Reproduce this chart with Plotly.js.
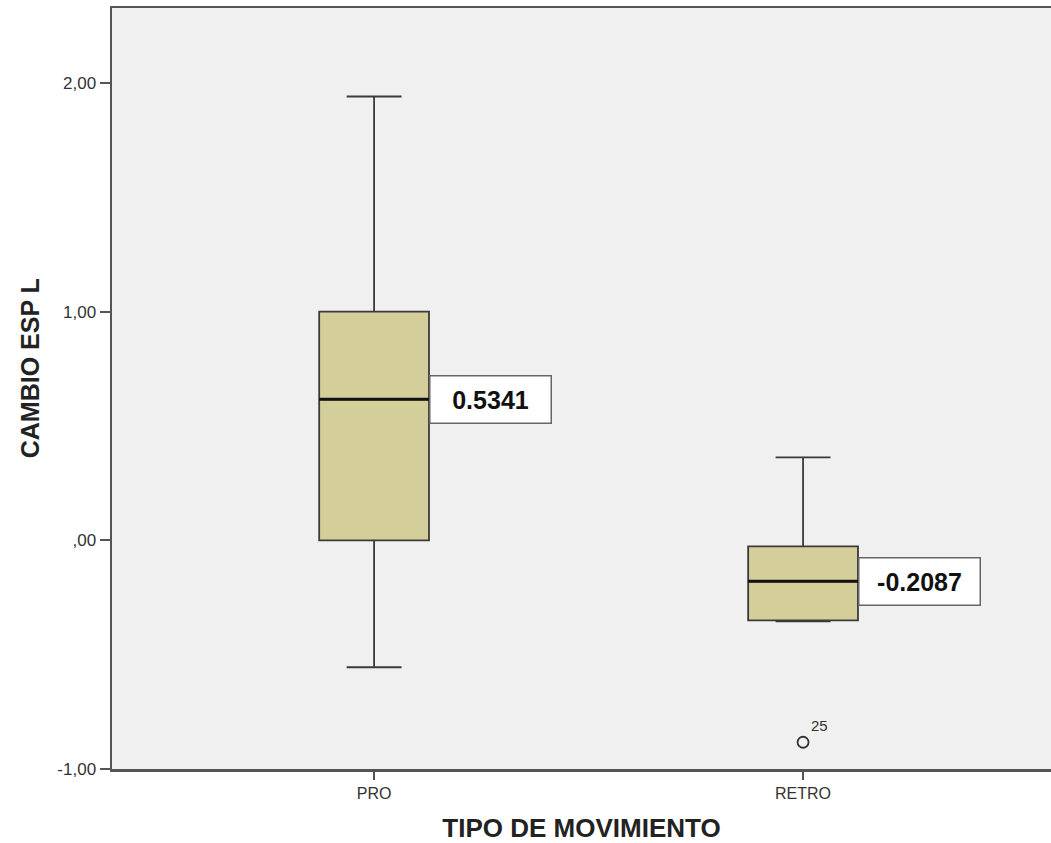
<!DOCTYPE html>
<html><head><meta charset="utf-8">
<script src="https://cdn.plot.ly/plotly-3.0.1.min.js"></script>
<style>html,body{margin:0;padding:0;background:#fff}#chart{width:1051px;height:843px}</style>
</head><body><div id="chart"></div>
<script>
const categories = ['PRO', 'RETRO'];
const lowerWhisker = [-0.555, -0.354];
const q1 = [0.00, -0.35];
const median = [0.617, -0.179];
const q3 = [1.00, -0.026];
const upperWhisker = [1.941, 0.363];
const meanLabels = ['0.5341', '-0.2087'];
const outlierCat = [1];
const outlierVal = [-0.883];
const outlierIds = ['25'];
const yTickVals = [-1, 0, 1, 2];
const yTickText = ['-1,00', ',00', '1,00', '2,00'];

const boxW = 0.256;
const fillCol = '#d4cf9a';
const lineCol = '#3a3a3a';
const font = 'Liberation Sans, Arial, sans-serif';

const traces = [];
categories.forEach((c, i) => {
  traces.push({
    type: 'box', x: [i], q1: [q1[i]], median: [median[i]], q3: [q3[i]],
    lowerfence: [lowerWhisker[i]], upperfence: [upperWhisker[i]],
    width: boxW, whiskerwidth: 0.5, fillcolor: fillCol,
    line: {color: lineCol, width: 1.8}, boxpoints: false, showlegend: false, hoverinfo: 'skip'
  });
  traces.push({
    type: 'scatter', mode: 'lines', x: [i - boxW / 2, i + boxW / 2], y: [median[i], median[i]],
    line: {color: '#111', width: 3}, showlegend: false, hoverinfo: 'skip'
  });
});
traces.push({
  type: 'scatter', mode: 'markers+text', x: outlierCat, y: outlierVal, text: outlierIds,
  textposition: 'top right', textfont: {family: font, size: 15, color: '#333'},
  marker: {symbol: 'circle-open', size: 11, color: '#333', line: {width: 1.8}},
  showlegend: false, hoverinfo: 'skip'
});

const annotations = categories.map((c, i) => ({
  x: i + boxW / 2, y: median[i], xref: 'x', yref: 'y', xanchor: 'left', yanchor: 'middle',
  text: '<b>' + meanLabels[i] + '</b>', showarrow: false,
  font: {family: font, size: 25, color: '#111'},
  bgcolor: '#ffffff', bordercolor: '#666', borderwidth: 1.5, borderpad: 2,
  width: 116, height: 42, align: 'center'
}));
annotations.push({
  xref: 'paper', yref: 'paper', x: -0.087, y: 0.527, xanchor: 'center', yanchor: 'middle',
  textangle: -90, showarrow: false, text: '<b>CAMBIO ESP L</b>',
  font: {family: font, size: 25, color: '#222'}
});

const layout = {
  width: 1051, height: 843,
  margin: {l: 112, r: 0, t: 8, b: 74},
  paper_bgcolor: '#ffffff', plot_bgcolor: '#f0f0f0',
  font: {family: font, color: '#333'},
  xaxis: {
    range: [-0.611, 1.578], tickvals: [0, 1], ticktext: categories,
    showgrid: false, zeroline: false, showline: true, linecolor: '#555', linewidth: 2.5,
    mirror: true, ticks: 'outside', ticklen: 8, tickcolor: '#555', tickwidth: 2,
    tickfont: {family: font, size: 16, color: '#333'},
    title: {text: '<b>TIPO DE MOVIMIENTO</b>', font: {family: font, size: 26, color: '#222'}, standoff: 19}
  },
  yaxis: {
    range: [-1.0, 2.328], tickvals: yTickVals, ticktext: yTickText,
    showgrid: false, zeroline: false, showline: true, linecolor: '#555', linewidth: 2.5,
    ticks: 'outside', ticklen: 10, tickcolor: '#555', tickwidth: 2,
    tickfont: {family: font, size: 17, color: '#333'}
  },
  annotations: annotations
};
Plotly.newPlot('chart', traces, layout, {displayModeBar: false, staticPlot: true});
</script></body></html>
